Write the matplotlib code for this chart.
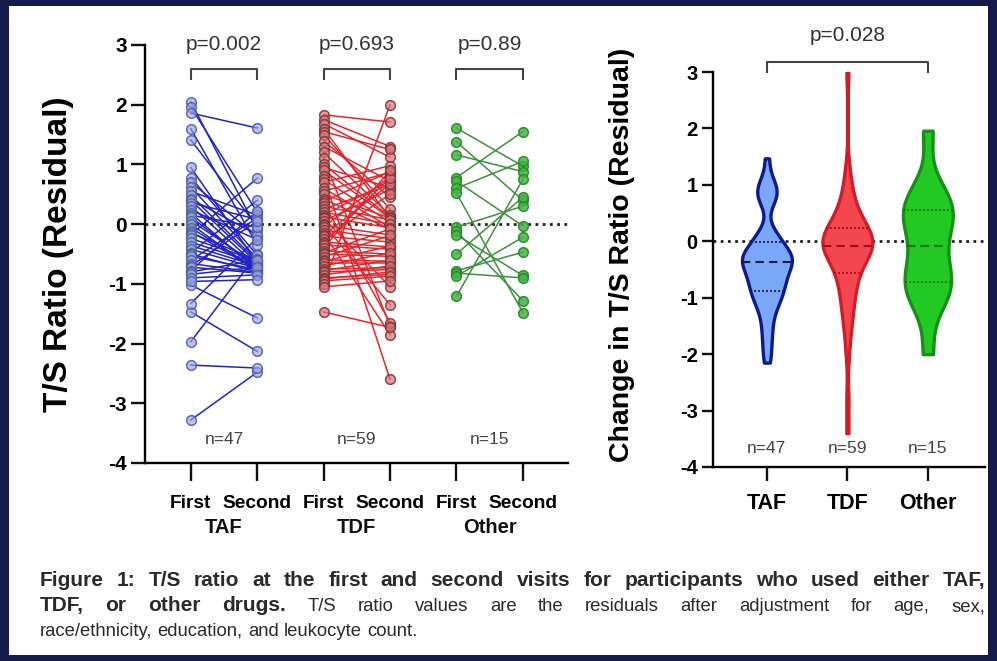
import numpy as np
import matplotlib
matplotlib.use("Agg")
import matplotlib.pyplot as plt
import matplotlib.transforms as mtransforms
from matplotlib import cbook, mlab
from matplotlib.patches import Rectangle

# ---------------- data ----------------
groups = ["TAF", "TDF", "Other"]
visit_labels = ["First", "Second"]
n_labels = ["n=47", "n=59", "n=15"]
p_within = ["p=0.002", "p=0.693", "p=0.89"]
p_between = "p=0.028"

taf_first = [-3.28, -2.36, -1.97, -1.47, -1.33, 2.05, 1.96, 1.86, 1.60, 1.41, 0.95, -1.02,
             0.78, 0.70, 0.62, 0.55, 0.48, 0.42, 0.40, 0.36, 0.30, 0.24, 0.18, 0.15, 0.12,
             0.06, 0.00, -0.06, -0.12, -0.15, -0.18, -0.24, -0.30, -0.36, -0.42, -0.48,
             -0.50, -0.54, -0.60, -0.66, -0.70, -0.72, -0.78, -0.80, -0.84, -0.90, -0.96]
taf_second = [-2.48, -2.41, -0.50, -2.13, -0.23, -0.10, 0.20, 1.61, -0.35, -0.04, -0.65, -1.57,
              -0.52, -0.20, -0.58, 0.15, -0.62, -0.18, -0.65, 0.08, -0.70, -0.26, -0.77, -0.05, -0.73,
              -0.69, -0.80, -0.76, -0.77, -0.60, 0.77, -0.61, -0.66, -0.70, -0.74, 0.40,
              -0.80, -0.76, 0.10, -0.81, 0.05, -0.82, 0.22, -0.60, -0.72, -0.85, -0.93]

tdf_first = [1.83, 1.75, 1.68, 1.60, 1.55, 1.50, 1.40, 1.30, 1.20, 1.10,
             1.00, 0.95, 0.90, 0.80, 0.75, 0.70, 0.60, 0.55, 0.50, 0.42,
             0.38, 0.35, 0.30, 0.25, 0.20, 0.15, 0.12, 0.10, 0.05, 0.00,
             -0.02, -0.05, -0.10, -0.15, -0.18, -0.20, -0.25, -0.30, -0.32, -0.35,
             -0.40, -0.45, -0.48, -0.50, -0.55, -0.60, -0.62, -0.65, -0.70, -0.75,
             -0.78, -0.80, -0.85, -0.90, -0.92, -0.95, -1.00, -1.05, -1.47]
tdf_second = [1.71, 1.30, 1.12, 0.10, 1.25, 0.25, 0.45, 0.72, 0.15, -1.70,
              0.12, 0.61, 0.10, -2.60, 0.03, 0.98, -0.05, 0.87, 0.10, -0.08,
              0.88, -1.65, 0.07, 0.66, 0.00, 0.73, -0.06, -1.05, 0.58, -1.35,
              -0.18, 0.80, -0.24, -1.85, 0.67, -0.30, 0.50, -0.38, 0.78, -0.42,
              0.90, -0.50, -0.08, -0.54, -0.19, -0.62, -0.37, -0.65, -0.48, -0.73,
              -0.60, -0.76, -0.70, -0.84, -0.80, -0.87, 2.00, -0.95, -1.73]

other_first = [1.61, 1.38, 1.16, 0.78, 0.72, 0.60, 0.52, -0.05, -0.12, -0.18,
               -0.50, -0.78, -0.82, -0.87, -1.21]
other_second = [0.97, 0.40, 0.88, 1.55, -0.03, 1.05, -1.48, 0.30, -1.28, -0.86,
                0.45, -0.47, -0.90, -0.22, 0.75]

firsts = [taf_first, tdf_first, other_first]
seconds = [taf_second, tdf_second, other_second]

# ---------------- style ----------------
line_colors = ["#2323c4", "#e3262d", "#3f8f3f"]
marker_faces = [(0.58, 0.64, 0.90, 0.65), (0.86, 0.45, 0.47, 0.70), (0.25, 0.72, 0.25, 0.85)]
marker_edges = [(0.33, 0.38, 0.62, 0.9), (0.50, 0.22, 0.22, 0.9), (0.16, 0.52, 0.16, 0.9)]
violin_faces = ["#7aa7f7", "#f3474f", "#22c922"]
violin_edges = ["#0c1a8e", "#d21d28", "#17901a"]
quart_colors = ["#1a1a3a", "#a01018", "#0f6a12"]
kde_factors = [0.24, 0.28, 0.38]

plt.rcParams["font.family"] = ["Liberation Sans", "DejaVu Sans"]
plt.rcParams["axes.linewidth"] = 1.7
plt.rcParams["axes.unicode_minus"] = False

W, H = 997, 661
fig = plt.figure(figsize=(W / 100, H / 100), dpi=100)
fig.patch.set_facecolor("#151a4d")
fig.add_artist(Rectangle((9 / W, 1 - 655 / H), (988 - 9) / W, (655 - 6) / H,
                         transform=fig.transFigure, facecolor="white",
                         edgecolor="none", zorder=-10))


def px_axes(x0, y0, x1, y1):
    return fig.add_axes([x0 / W, 1 - y1 / H, (x1 - x0) / W, (y1 - y0) / H])


def style_axes(ax, ticklen):
    for s in ("top", "right"):
        ax.spines[s].set_visible(False)
    ax.set_facecolor("none")
    ax.tick_params(axis="both", direction="out", length=ticklen, width=1.7,
                   color="#111111", pad=3)
    ax.set_ylim(-4, 3)
    ax.set_yticks(range(-4, 4))
    for lab in ax.get_yticklabels():
        lab.set_fontweight("bold")
    ax.axhline(0, color="#222222", lw=2.0, ls=(0, (1, 1.6)), zorder=1)


# ---------------- left: paired values ----------------
axL = px_axes(145, 45, 568, 463)
style_axes(axL, 10)
axL.set_xlim(0.31, 6.68)
axL.tick_params(axis="y", labelsize=15)
pos = np.arange(1, 7)
axL.set_xticks(pos)
axL.set_xticklabels(visit_labels * 3, fontsize=13.8, fontweight="bold")
axL.tick_params(axis="x", length=13, pad=10)

for g, (f, s) in enumerate(zip(firsts, seconds)):
    f = np.asarray(f)
    s = np.asarray(s)
    x1, x2 = pos[2 * g], pos[2 * g + 1]
    xs = np.vstack([np.full(len(f), x1), np.full(len(s), x2)])
    axL.plot(xs, np.vstack([f, s]), color=line_colors[g], lw=1.1, zorder=2)
    for xv, vals in ((x1, f), (x2, s)):
        axL.plot(np.full(len(vals), xv), vals, ls="none", marker="o", ms=7,
                 mfc=marker_faces[g], mec=marker_edges[g], mew=1.1, zorder=3)

blendL = mtransforms.blended_transform_factory(axL.transData, axL.transAxes)
for g, name in enumerate(groups):
    cx = (pos[2 * g] + pos[2 * g + 1]) / 2
    axL.text(cx, -0.155, name, transform=blendL, ha="center", va="center",
             fontsize=14.5, fontweight="bold", color="#111111")
    axL.text(cx, -3.6, n_labels[g], ha="center", va="center", fontsize=12.5,
             color="#444444")
    x1, x2 = pos[2 * g], pos[2 * g + 1]
    axL.plot([x1, x1, x2, x2], [2.43, 2.6, 2.6, 2.43], color="#444444", lw=1.5,
             clip_on=False)
    axL.text(cx, 3.0, p_within[g], ha="center", va="center", fontsize=15,
             color="#333333")

axL.set_ylabel("T/S Ratio (Residual)", fontsize=24, fontweight="bold")
axL.yaxis.set_label_coords(-0.168, 0.5)

# ---------------- right: change between visits ----------------
changes = [np.asarray(s) - np.asarray(f) for f, s in zip(firsts, seconds)]

axR = px_axes(713, 72, 985, 467)
style_axes(axR, 8)
axR.tick_params(axis="y", labelsize=14.5)
axR.set_xlim(-0.67, 2.71)
vpos = np.arange(3)
axR.set_xticks(vpos)
axR.set_xticklabels(groups, fontsize=15.5, fontweight="bold")
axR.tick_params(axis="x", length=10, pad=9)

half_width = 0.31
for i, data in enumerate(changes):
    fac = kde_factors[i]
    st = cbook.violin_stats(
        [data], lambda X, c: mlab.GaussianKDE(X, bw_method=fac).evaluate(c),
        points=300)[0]
    coords = st["coords"]
    half = st["vals"] / st["vals"].max() * half_width
    axR.fill_betweenx(coords, vpos[i] - half, vpos[i] + half,
                      facecolor=violin_faces[i], edgecolor=violin_edges[i],
                      lw=2.4, zorder=3)
    q1, med, q3 = np.percentile(data, [25, 50, 75])
    for q, ls, lw in ((q1, (0, (1.2, 1.2)), 1.2), (med, (0, (4, 2.5)), 1.5),
                      (q3, (0, (1.2, 1.2)), 1.2)):
        w = np.interp(q, coords, half)
        axR.plot([vpos[i] - w, vpos[i] + w], [q, q], color=quart_colors[i],
                 ls=ls, lw=lw, zorder=4)
    axR.text(vpos[i], -3.68, n_labels[i], ha="center", va="center",
             fontsize=12.5, color="#444444")

axR.plot([0, 0, 2, 2], [3.0, 3.17, 3.17, 3.0], color="#444444", lw=1.5,
         clip_on=False)
axR.text(1, 3.65, p_between, ha="center", va="center", fontsize=15,
         color="#333333")
axR.set_ylabel("Change in T/S Ratio (Residual)", fontsize=20.5, fontweight="bold")
axR.yaxis.set_label_coords(-0.287, 0.537)

# ---------------- caption (justified lines) ----------------
cap_sizes = {"bold": 15.0, "normal": 13.3}
cap_color = "#2a2a2a"
caption_lines = [
    ([("Figure 1: T/S ratio at the first and second visits for participants who used either TAF,", "bold")], True, 586),
    ([("TDF, or other drugs.", "bold"),
      ("T/S ratio values are the residuals after adjustment for age, sex,", "normal")], True, 611),
    ([("race/ethnicity, education, and leukocyte count.", "normal")], False, 636),
]
renderer = fig.canvas.get_renderer()
probe = fig.text(0, 0, "x x", fontsize=cap_sizes["normal"])
probe2 = fig.text(0, 0, "xx", fontsize=cap_sizes["normal"])
space_px = probe.get_window_extent(renderer).width - probe2.get_window_extent(renderer).width
probe.remove()
probe2.remove()

x_left, x_right = 40, 985
for parts, justify, base in caption_lines:
    words = []
    for txt, wt in parts:
        for w in txt.split(" "):
            words.append((w, wt))
    arts = [fig.text(0, 1 - base / H, w, fontsize=cap_sizes[wt], fontweight=wt,
                     color=cap_color, va="baseline", ha="left")
            for w, wt in words]
    widths = [a.get_window_extent(renderer).width for a in arts]
    if justify and len(arts) > 1:
        gap = (x_right - x_left - sum(widths)) / (len(arts) - 1)
    else:
        gap = space_px
    x = x_left
    for a, wd in zip(arts, widths):
        a.set_x(x / W)
        x += wd + gap

fig.savefig("out.png", dpi=100, facecolor=fig.get_facecolor())
